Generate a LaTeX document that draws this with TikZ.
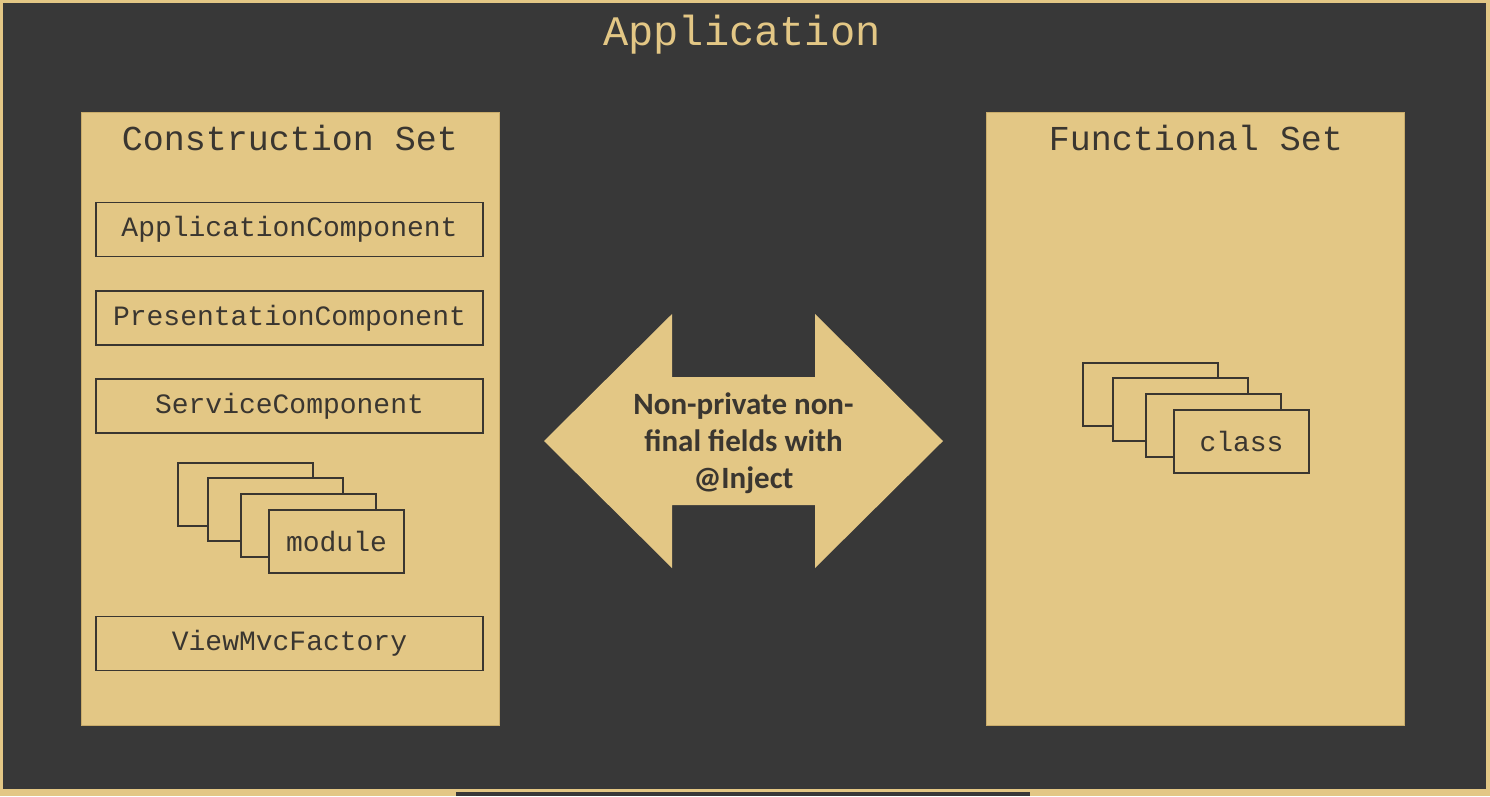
\documentclass[tikz,border=0pt]{standalone}
\usepackage{fontspec}
\usepackage{tikz}

\newfontfamily\monofont{Liberation Mono}
\newfontfamily\calfont{Carlito}

\definecolor{appdark}{HTML}{383838}
\definecolor{apptan}{HTML}{E3C785}
\definecolor{panelline}{HTML}{C9AC6B}
\definecolor{ink}{HTML}{3A3630}

\tikzset{
  panel/.style={draw=panelline, fill=apptan, line width=1pt, minimum width=418pt, minimum height=613pt, inner sep=0pt},
  settitle/.style={text=ink, inner sep=0pt, font=\monofont\fontsize{35}{38}\selectfont},
  comp/.style={draw=ink, line width=1.2pt, minimum width=387pt, minimum height=54pt, inner sep=0pt, text=ink, font=\monofont\fontsize{28}{30}\selectfont},
  stackbox/.style={draw=ink, fill=apptan, line width=1.5pt, minimum width=135pt, minimum height=63pt, inner sep=0pt, text=ink, font=\monofont\fontsize{28}{30}\selectfont}
}

\begin{document}
\begin{tikzpicture}[x=1pt, y=-1pt]
  \useasboundingbox (0,0) rectangle (1490,796);
  % Application frame
  \fill[apptan] (0,0) rectangle (1490,796);
  \fill[appdark] (3,3) rectangle (1486,789);
  \fill[appdark] (456,792) rectangle (1030,796);
  \node[text=apptan, inner sep=0pt, font=\monofont\fontsize{42}{44}\selectfont] (app) at (742,35) {Application};

  % Construction set
  \node[panel] (cset) at (290,418.5) {};
  \node[settitle] (csettitle) at (290,138) {Construction Set};
  \node[comp] (appcomp) at (289.5,229.5) {ApplicationComponent};
  \node[comp] (prescomp) at (289.5,318) {PresentationComponent};
  \node[comp] (servcomp) at (289.5,406) {ServiceComponent};
  \node[stackbox] (mod1) at (245.5,494.5) {};
  \node[stackbox] (mod2) at (275.5,509.5) {};
  \node[stackbox] (mod3) at (308.5,525.5) {};
  \node[stackbox] (mod4) at (336.5,541.5) {module};
  \node[comp] (viewfac) at (289.5,643.5) {ViewMvcFactory};

  % Functional set
  \node[panel] (fset) at (1195.5,418.5) {};
  \node[settitle] (fsettitle) at (1196,138) {Functional Set};
  \node[stackbox] (cls1) at (1150.5,394.5) {};
  \node[stackbox] (cls2) at (1180.5,409.5) {};
  \node[stackbox] (cls3) at (1213.5,425.5) {};
  \node[stackbox] (cls4) at (1241.5,441.5) {class};

  % Injection arrow
  \fill[apptan] (544,441) -- (672,314) -- (672,377) -- (815,377) -- (815,314)
    -- (943,441) -- (815,568) -- (815,505) -- (672,505) -- (672,568) -- cycle;
  \node[align=center, text=ink, inner sep=0pt, font=\calfont\bfseries\fontsize{31}{37}\selectfont] (inject) at (743.5,443)
    {Non-private non-\\final fields with\\@Inject};
\end{tikzpicture}
\end{document}
